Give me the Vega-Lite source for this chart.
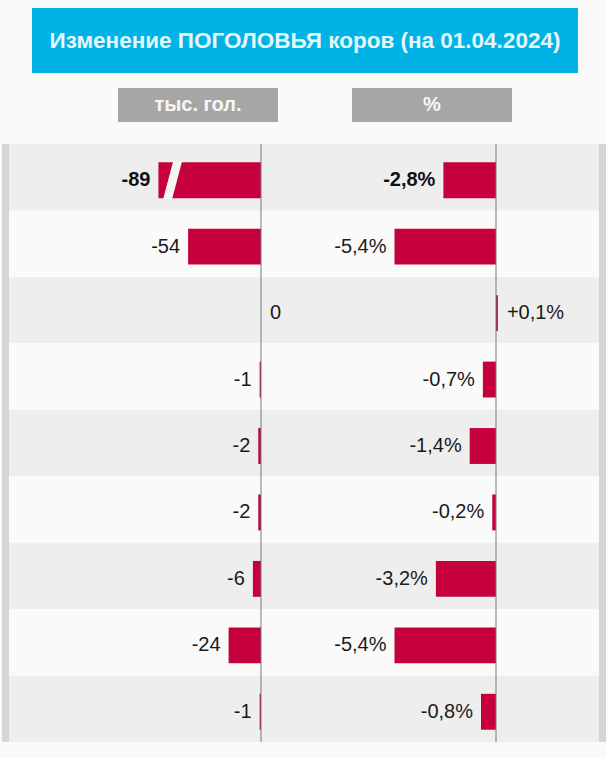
{
  "$schema": "https://vega.github.io/schema/vega-lite/v6.json",
  "background": "#fafafa",
  "padding": {"left": 2, "top": 8, "right": 0, "bottom": 17},
  "spacing": 0,
  "config": {
    "view": {"stroke": null},
    "locale": {"number": {"decimal": ",", "thousands": " ", "grouping": [3], "currency": ["", ""], "minus": "-"}},
    "text": {"font": "Liberation Sans"}
  },
  "datasets": {
    "cows": [
      {"row": 1, "abs": -89, "pct": -0.028},
      {"row": 2, "abs": -54, "pct": -0.054},
      {"row": 3, "abs": 0, "pct": 0.001},
      {"row": 4, "abs": -1, "pct": -0.007},
      {"row": 5, "abs": -2, "pct": -0.014},
      {"row": 6, "abs": -2, "pct": -0.002},
      {"row": 7, "abs": -6, "pct": -0.032},
      {"row": 8, "abs": -24, "pct": -0.054},
      {"row": 9, "abs": -1, "pct": -0.008}
    ],
    "title": [{"t": "Изменение ПОГОЛОВЬЯ коров (на 01.04.2024)"}],
    "headers": [{"h": "тыс. гол."}, {"h": "%"}]
  },
  "vconcat": [
    {
      "hconcat": [
        {"width": 30, "height": 65, "data": {"name": "title"}, "mark": {"type": "rect", "opacity": 0},
         "encoding": {"x": {"value": 0}, "x2": {"value": "width"}, "y": {"value": 0}, "y2": {"value": "height"}}},
        {"width": 546, "height": 65, "data": {"name": "title"},
         "layer": [
           {"mark": {"type": "rect", "color": "#00b3e6"},
            "encoding": {"x": {"value": 0}, "x2": {"value": "width"}, "y": {"value": 0}, "y2": {"value": "height"}}},
           {"mark": {"type": "text", "fontSize": 22.5, "fontWeight": "bold", "color": "#e6f7fc", "align": "center", "baseline": "middle"},
            "encoding": {"text": {"field": "t"}}}
         ]}
      ],
      "spacing": 0
    },
    {"width": 1, "height": 15, "data": {"name": "title"}, "mark": {"type": "rect", "opacity": 0},
     "encoding": {"x": {"value": 0}, "x2": {"value": "width"}, "y": {"value": 0}, "y2": {"value": "height"}}},
    {
      "hconcat": [
        {"width": 42, "height": 34, "data": {"name": "title"}, "mark": {"type": "rect", "opacity": 0},
         "encoding": {"x": {"value": 0}, "x2": {"value": "width"}, "y": {"value": 0}, "y2": {"value": "height"}}},
        {"width": 160, "height": 34, "data": {"name": "headers"}, "transform": [{"filter": "datum.h === 'тыс. гол.'"}],
         "layer": [
           {"mark": {"type": "rect", "color": "#a6a6a6"},
            "encoding": {"x": {"value": 0}, "x2": {"value": "width"}, "y": {"value": 0}, "y2": {"value": "height"}}},
           {"mark": {"type": "text", "fontSize": 20, "fontWeight": "bold", "color": "#f7f7f7", "align": "center", "baseline": "middle"},
            "encoding": {"text": {"field": "h"}}}
         ]},
        {"width": 160, "height": 34, "data": {"name": "headers"}, "transform": [{"filter": "datum.h === '%'"}],
         "layer": [
           {"mark": {"type": "rect", "color": "#a6a6a6"},
            "encoding": {"x": {"value": 0}, "x2": {"value": "width"}, "y": {"value": 0}, "y2": {"value": "height"}}},
           {"mark": {"type": "text", "fontSize": 20, "fontWeight": "bold", "color": "#f7f7f7", "align": "center", "baseline": "middle"},
            "encoding": {"text": {"field": "h"}}}
         ]}
      ],
      "spacing": 74
    },
    {"width": 1, "height": 21, "data": {"name": "title"}, "mark": {"type": "rect", "opacity": 0},
     "encoding": {"x": {"value": 0}, "x2": {"value": "width"}, "y": {"value": 0}, "y2": {"value": "height"}}},
    {
      "hconcat": [
        {"width": 7, "height": 598, "data": {"name": "title"}, "mark": {"type": "rect", "color": "#d5d5d5"},
         "encoding": {"x": {"value": 0}, "x2": {"value": "width"}, "y": {"value": 0}, "y2": {"value": "height"}}},
        {
          "width": 291, "height": 598,
          "data": {"name": "cows"},
          "transform": [{"calculate": "max(datum.abs, -76)", "as": "bar"}],
          "layer": [
            {"mark": {"type": "rect"},
             "encoding": {
               "y": {"field": "row", "type": "ordinal", "axis": null, "scale": {"paddingInner": 0, "paddingOuter": 0}},
               "x": {"value": 0}, "x2": {"value": "width"},
               "color": {"condition": {"test": "datum.row % 2 === 1", "value": "#efeeef"}, "value": "#fafafa"}
             }},
            {"mark": {"type": "bar", "color": "#c5003c", "height": {"band": 0.54}, "yOffset": 3},
             "encoding": {
               "y": {"field": "row", "type": "ordinal", "axis": null},
               "x": {"field": "bar", "type": "quantitative", "axis": null, "scale": {"domain": [-186.7, 28.9], "nice": false, "zero": false}}
             }},
            {"transform": [{"filter": "datum.abs < -76"}],
             "mark": {"type": "point", "shape": "M 0.04 -1 L 0.51 -1 L -0.02 1 L -0.49 1 Z", "size": 1444, "filled": true, "color": "#f6f6f6", "opacity": 1, "strokeWidth": 0, "xOffset": 14, "yOffset": 3},
             "encoding": {
               "y": {"field": "row", "type": "ordinal", "axis": null},
               "x": {"field": "bar", "type": "quantitative"}
             }},
            {"transform": [{"filter": "datum.row === 1"}],
             "mark": {"type": "rule", "color": "#7a7a7a", "strokeWidth": 1},
             "encoding": {"x": {"datum": 0, "type": "quantitative"}}},
            {"transform": [{"filter": "datum.abs < 0 && datum.row !== 1"}],
             "mark": {"type": "text", "align": "right", "baseline": "middle", "dx": -8, "yOffset": 3, "fontSize": 20, "color": "#1a1a1a"},
             "encoding": {
               "y": {"field": "row", "type": "ordinal", "axis": null},
               "x": {"field": "bar", "type": "quantitative"},
               "text": {"field": "abs", "type": "quantitative", "format": "d"}
             }},
            {"transform": [{"filter": "datum.row === 1"}],
             "mark": {"type": "text", "align": "right", "baseline": "middle", "dx": -8, "yOffset": 3, "fontSize": 20, "fontWeight": "bold", "color": "#111111"},
             "encoding": {
               "y": {"field": "row", "type": "ordinal", "axis": null},
               "x": {"field": "bar", "type": "quantitative"},
               "text": {"field": "abs", "type": "quantitative", "format": "d"}
             }},
            {"transform": [{"filter": "datum.abs >= 0"}],
             "mark": {"type": "text", "align": "left", "baseline": "middle", "dx": 9, "yOffset": 3, "fontSize": 20, "color": "#1a1a1a"},
             "encoding": {
               "y": {"field": "row", "type": "ordinal", "axis": null},
               "x": {"field": "bar", "type": "quantitative"},
               "text": {"field": "abs", "type": "quantitative", "format": "d"}
             }}
          ]
        },
        {
          "width": 299, "height": 598,
          "data": {"name": "cows"},
          "layer": [
            {"mark": {"type": "rect"},
             "encoding": {
               "y": {"field": "row", "type": "ordinal", "axis": null, "scale": {"paddingInner": 0, "paddingOuter": 0}},
               "x": {"value": 0}, "x2": {"value": "width"},
               "color": {"condition": {"test": "datum.row % 2 === 1", "value": "#efeeef"}, "value": "#fafafa"}
             }},
            {"mark": {"type": "bar", "color": "#c5003c", "height": {"band": 0.54}, "yOffset": 3},
             "encoding": {
               "y": {"field": "row", "type": "ordinal", "axis": null},
               "x": {"field": "pct", "type": "quantitative", "axis": null, "scale": {"domain": [-0.1043, 0.0548], "nice": false, "zero": false}}
             }},
            {"transform": [{"filter": "datum.row === 1"}],
             "mark": {"type": "rule", "color": "#7a7a7a", "strokeWidth": 1},
             "encoding": {"x": {"datum": 0, "type": "quantitative"}}},
            {"transform": [{"filter": "datum.pct < 0 && datum.row !== 1"}],
             "mark": {"type": "text", "align": "right", "baseline": "middle", "dx": -8, "yOffset": 3, "fontSize": 20, "color": "#1a1a1a"},
             "encoding": {
               "y": {"field": "row", "type": "ordinal", "axis": null},
               "x": {"field": "pct", "type": "quantitative"},
               "text": {"field": "pct", "type": "quantitative", "format": "+.1%"}
             }},
            {"transform": [{"filter": "datum.row === 1"}],
             "mark": {"type": "text", "align": "right", "baseline": "middle", "dx": -8, "yOffset": 3, "fontSize": 20, "fontWeight": "bold", "color": "#111111"},
             "encoding": {
               "y": {"field": "row", "type": "ordinal", "axis": null},
               "x": {"field": "pct", "type": "quantitative"},
               "text": {"field": "pct", "type": "quantitative", "format": "+.1%"}
             }},
            {"transform": [{"filter": "datum.pct >= 0"}],
             "mark": {"type": "text", "align": "left", "baseline": "middle", "dx": 9, "yOffset": 3, "fontSize": 20, "color": "#1a1a1a"},
             "encoding": {
               "y": {"field": "row", "type": "ordinal", "axis": null},
               "x": {"field": "pct", "type": "quantitative"},
               "text": {"field": "pct", "type": "quantitative", "format": "+.1%"}
             }}
          ]
        },
        {"width": 7, "height": 598, "data": {"name": "title"}, "mark": {"type": "rect", "color": "#d5d5d5"},
         "encoding": {"x": {"value": 0}, "x2": {"value": "width"}, "y": {"value": 0}, "y2": {"value": "height"}}}
      ],
      "spacing": 0
    }
  ]
}
